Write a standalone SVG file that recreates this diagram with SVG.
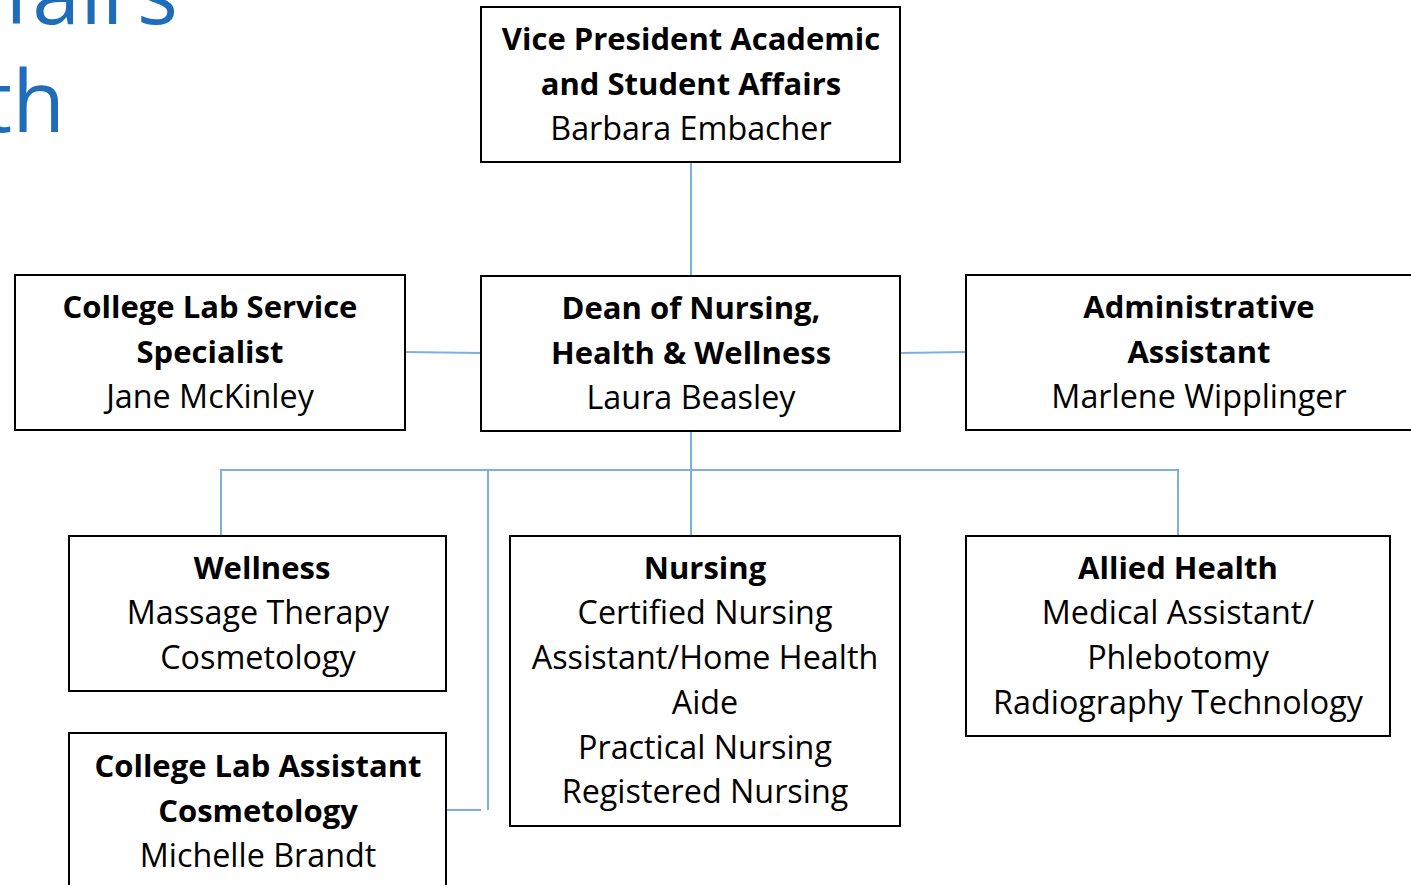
<svg xmlns="http://www.w3.org/2000/svg" width="1411" height="885" viewBox="0 0 1411 885">
<style>
.box{fill:#fff;stroke:#000;stroke-width:2}
.t{font-family:"Open Sans","Liberation Sans",sans-serif;font-size:32.3px;fill:#000;text-anchor:middle}
.b{font-weight:bold;font-size:31px}
.title{font-family:"Open Sans","Liberation Sans",sans-serif;font-size:86px;fill:#1f6dba;text-anchor:end}
.c{fill:none;stroke:#7cb0e2;stroke-width:2}
</style>
<text class="title" x="178" y="24">fairs</text>
<text class="title" x="65" y="132">th</text>
<g id="connectors">
<path class="c" d="M691 162V276"/>
<path class="c" d="M405 352L481 353"/>
<path class="c" d="M900 353L966 352"/>
<path class="c" d="M691 431V536"/>
<path class="c" d="M221 536V470H1178V536"/>
<path class="c" d="M488 470V810"/>
<path class="c" d="M446 810H481"/>
</g>
<g id="vp"><rect class="box" x="481" y="7" width="419" height="155"/>
<text class="t b" x="691" y="50">Vice President Academic</text>
<text class="t b" x="691" y="95">and Student Affairs</text>
<text class="t" x="691" y="140">Barbara Embacher</text></g>
<g id="labservice"><rect class="box" x="15" y="275" width="390" height="155"/>
<text class="t b" x="210" y="318">College Lab Service</text>
<text class="t b" x="210" y="363">Specialist</text>
<text class="t" x="210" y="408">Jane McKinley</text></g>
<g id="dean"><rect class="box" x="481" y="276" width="419" height="155"/>
<text class="t b" x="691" y="319">Dean of Nursing,</text>
<text class="t b" x="691" y="364">Health &amp; Wellness</text>
<text class="t" x="691" y="409">Laura Beasley</text></g>
<g id="admin"><rect class="box" x="966" y="275" width="460" height="155"/>
<text class="t b" x="1199" y="318">Administrative</text>
<text class="t b" x="1199" y="363">Assistant</text>
<text class="t" x="1199" y="408">Marlene Wipplinger</text></g>
<g id="wellness"><rect class="box" x="69" y="536" width="377" height="155"/>
<text class="t b" x="262" y="579">Wellness</text>
<text class="t" x="258" y="624">Massage Therapy</text>
<text class="t" x="258" y="669">Cosmetology</text></g>
<g id="nursing"><rect class="box" x="510" y="536" width="390" height="290"/>
<text class="t b" x="705" y="579">Nursing</text>
<text class="t" x="705" y="624">Certified Nursing</text>
<text class="t" x="705" y="669">Assistant/Home Health</text>
<text class="t" x="705" y="714">Aide</text>
<text class="t" x="705" y="759">Practical Nursing</text>
<text class="t" x="705" y="803">Registered Nursing</text></g>
<g id="allied"><rect class="box" x="966" y="536" width="424" height="200"/>
<text class="t b" x="1178" y="579">Allied Health</text>
<text class="t" x="1178" y="624">Medical Assistant/</text>
<text class="t" x="1178" y="669">Phlebotomy</text>
<text class="t" x="1178" y="714">Radiography Technology</text></g>
<g id="labassistant"><rect class="box" x="69" y="733" width="377" height="170"/>
<text class="t b" x="258" y="777">College Lab Assistant</text>
<text class="t b" x="258" y="822">Cosmetology</text>
<text class="t" x="258" y="867">Michelle Brandt</text></g>
</svg>
